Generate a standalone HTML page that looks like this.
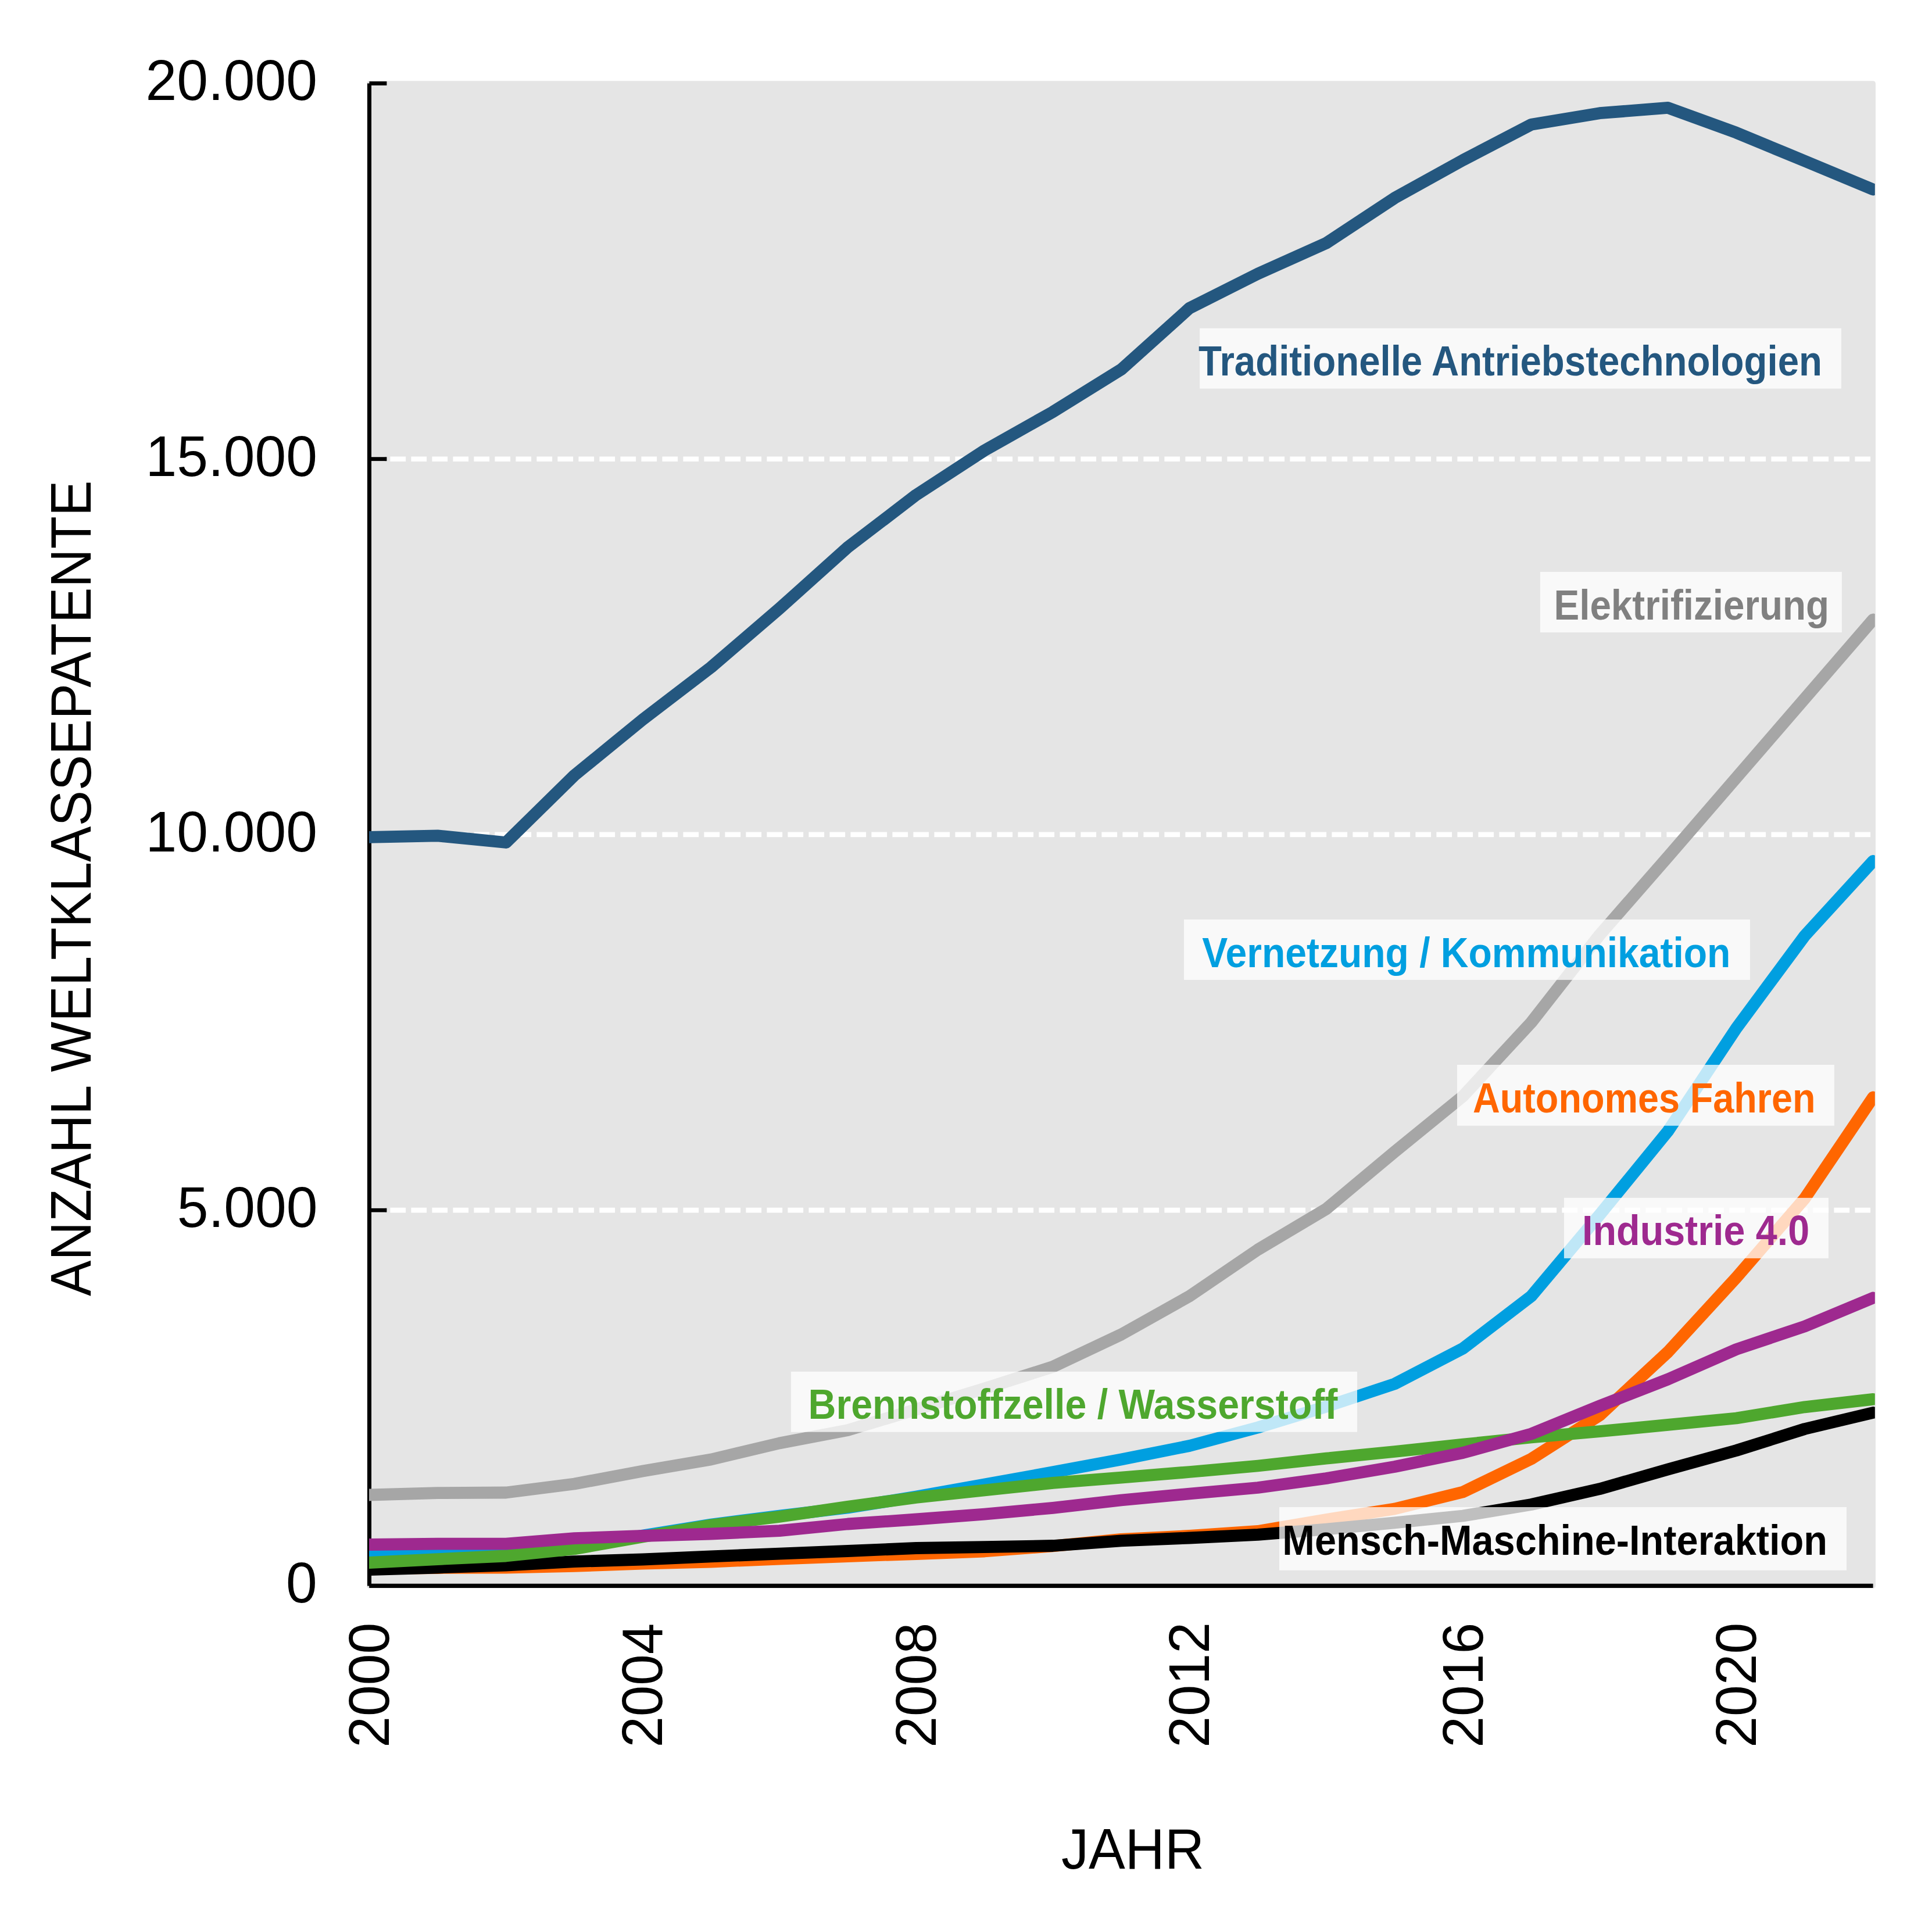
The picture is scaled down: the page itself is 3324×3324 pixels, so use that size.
<!DOCTYPE html>
<html lang="de"><head><meta charset="utf-8"><title>Weltklassepatente</title>
<style>html,body{margin:0;padding:0;background:#fff;}body{width:3324px;height:3324px;overflow:hidden;}svg{display:block;}.ax{font-family:"Liberation Sans",Arial,sans-serif;fill:#000;}.lb{font-family:"Liberation Sans",Arial,sans-serif;font-weight:bold;}</style>
</head><body>
<svg width="3324" height="3324" viewBox="0 0 3324 3324">
<rect x="0" y="0" width="3324" height="3324" fill="#ffffff"/>
<rect x="635.40" y="143.50" width="2587.20" height="2584.90" fill="#e5e5e5" stroke="#e5e5e5" stroke-width="8.7" stroke-linejoin="round"/>
<line x1="635.40" y1="2082.18" x2="3222.60" y2="2082.18" stroke="#ffffff" stroke-width="8.7" stroke-dasharray="26.7 9.3"/>
<line x1="635.40" y1="1435.95" x2="3222.60" y2="1435.95" stroke="#ffffff" stroke-width="8.7" stroke-dasharray="26.7 9.3"/>
<line x1="635.40" y1="789.73" x2="3222.60" y2="789.73" stroke="#ffffff" stroke-width="8.7" stroke-dasharray="26.7 9.3"/>
<line x1="635.5" y1="143.50" x2="635.5" y2="2728.40" stroke="#000" stroke-width="7"/>
<line x1="635.4" y1="2728.40" x2="3222.60" y2="2728.40" stroke="#000" stroke-width="7.3"/>
<line x1="635.4" y1="2728.40" x2="665.4" y2="2728.40" stroke="#000" stroke-width="6.9"/>
<line x1="635.4" y1="2082.18" x2="665.4" y2="2082.18" stroke="#000" stroke-width="6.9"/>
<line x1="635.4" y1="1435.95" x2="665.4" y2="1435.95" stroke="#000" stroke-width="6.9"/>
<line x1="635.4" y1="789.73" x2="665.4" y2="789.73" stroke="#000" stroke-width="6.9"/>
<line x1="635.4" y1="143.50" x2="665.4" y2="143.50" stroke="#000" stroke-width="6.9"/>
<defs><clipPath id="pc"><rect x="635.0" y="139" width="2590.8" height="2594"/></clipPath></defs>
<g clip-path="url(#pc)" fill="none" stroke-width="20.8" stroke-linejoin="round" stroke-linecap="round">
<polyline stroke="#24577f" points="635.4,1440.4 753.0,1437.9 870.6,1449.5 988.2,1334.0 1105.8,1238.0 1223.4,1148.0 1341.0,1047.0 1458.6,941.6 1576.2,851.6 1693.8,775.0 1811.4,708.7 1929.0,635.7 2046.6,530.1 2164.2,471.0 2281.8,418.3 2399.4,340.7 2517.0,275.5 2634.6,214.3 2752.2,194.7 2869.8,185.4 2987.4,228.3 3105.0,277.0 3222.6,326.0"/>
<polyline stroke="#a6a6a6" points="635.4,2572.0 753.0,2568.6 870.6,2568.0 988.2,2553.0 1105.8,2531.0 1223.4,2511.0 1341.0,2483.0 1458.6,2460.6 1576.2,2425.0 1693.8,2389.0 1811.4,2351.5 1929.0,2296.0 2046.6,2230.0 2164.2,2150.0 2281.8,2080.0 2399.4,1981.7 2517.0,1886.0 2634.6,1759.0 2752.2,1608.5 2869.8,1474.0 2987.4,1338.0 3105.0,1202.0 3222.6,1066.0"/>
<polyline stroke="#ff6600" points="635.4,2698.5 753.0,2697.5 870.6,2697.0 988.2,2694.4 1105.8,2690.0 1223.4,2687.0 1341.0,2682.0 1458.6,2677.5 1576.2,2673.5 1693.8,2669.0 1811.4,2660.0 1929.0,2648.3 2046.6,2642.5 2164.2,2634.5 2281.8,2614.5 2399.4,2596.0 2517.0,2567.0 2634.6,2510.0 2752.2,2435.0 2869.8,2326.0 2987.4,2198.0 3105.0,2062.0 3222.6,1888.0"/>
<polyline stroke="#000000" points="635.4,2700.5 753.0,2697.0 870.6,2693.0 988.2,2686.6 1105.8,2683.0 1223.4,2677.8 1341.0,2673.2 1458.6,2668.5 1576.2,2663.5 1693.8,2661.7 1811.4,2659.5 1929.0,2650.8 2046.6,2646.0 2164.2,2640.4 2281.8,2631.0 2399.4,2619.8 2517.0,2608.0 2634.6,2588.5 2752.2,2561.7 2869.8,2528.0 2987.4,2495.5 3105.0,2458.5 3222.6,2430.5"/>
<polyline stroke="#009fe0" points="635.4,2673.0 753.0,2671.0 870.6,2668.0 988.2,2663.0 1105.8,2642.0 1223.4,2623.0 1341.0,2608.0 1458.6,2594.0 1576.2,2575.0 1693.8,2554.0 1811.4,2532.8 1929.0,2511.0 2046.6,2487.5 2164.2,2456.0 2281.8,2420.0 2399.4,2381.0 2517.0,2320.0 2634.6,2230.0 2752.2,2090.0 2869.8,1946.0 2987.4,1769.0 3105.0,1610.0 3222.6,1481.5"/>
<polyline stroke="#4ea72e" points="635.4,2688.5 753.0,2682.6 870.6,2677.0 988.2,2665.0 1105.8,2644.0 1223.4,2624.0 1341.0,2609.5 1458.6,2592.4 1576.2,2576.5 1693.8,2564.0 1811.4,2551.4 1929.0,2542.2 2046.6,2532.5 2164.2,2522.0 2281.8,2509.2 2399.4,2497.5 2517.0,2485.2 2634.6,2473.0 2752.2,2462.7 2869.8,2451.4 2987.4,2440.0 3105.0,2420.8 3222.6,2407.4"/>
<polyline stroke="#9e298f" points="635.4,2657.5 753.0,2656.2 870.6,2656.2 988.2,2646.6 1105.8,2642.5 1223.4,2639.0 1341.0,2633.7 1458.6,2622.0 1576.2,2614.0 1693.8,2605.2 1811.4,2594.3 1929.0,2581.0 2046.6,2570.0 2164.2,2559.5 2281.8,2543.5 2399.4,2523.5 2517.0,2499.5 2634.6,2467.0 2752.2,2419.0 2869.8,2373.0 2987.4,2321.5 3105.0,2282.0 3222.6,2233.0"/>
</g>
<text class="ax" transform="translate(250.57,172.40) scale(0.9852,1)" font-size="98">20.000</text>
<text class="ax" transform="translate(250.57,818.63) scale(0.9852,1)" font-size="98">15.000</text>
<text class="ax" transform="translate(250.57,1464.85) scale(0.9852,1)" font-size="98">10.000</text>
<text class="ax" transform="translate(304.76,2111.08) scale(0.9852,1)" font-size="98">5.000</text>
<text class="ax" transform="translate(491.95,2757.30) scale(0.9852,1)" font-size="98">0</text>
<text class="ax" transform="translate(668.90,3006.63) rotate(-90) scale(0.9861,1)" font-size="98">2000</text>
<text class="ax" transform="translate(1139.30,3006.61) rotate(-90) scale(0.9814,1)" font-size="98">2004</text>
<text class="ax" transform="translate(1609.70,3006.63) rotate(-90) scale(0.9861,1)" font-size="98">2008</text>
<text class="ax" transform="translate(2080.10,3006.65) rotate(-90) scale(0.9909,1)" font-size="98">2012</text>
<text class="ax" transform="translate(2550.50,3006.63) rotate(-90) scale(0.9861,1)" font-size="98">2016</text>
<text class="ax" transform="translate(3020.90,3006.63) rotate(-90) scale(0.9861,1)" font-size="98">2020</text>
<text class="ax" transform="translate(156.07,2229.90) rotate(-90) scale(0.9319,1)" font-size="98.8">ANZAHL WELTKLASSEPATENTE</text>
<text class="ax" transform="translate(1825.98,3215.30) scale(0.9513,1)" font-size="99.0">JAHR</text>
<rect x="2064.1" y="564.8" width="1103.8" height="103.8" fill="#ffffff" fill-opacity="0.75"/>
<text transform="translate(2062.09,646.40) scale(0.9082,1)" font-size="72" class="lb" fill="#24577f">Traditionelle Antriebstechnologien</text>
<rect x="2649.9" y="983.9" width="519.0" height="104.2" fill="#ffffff" fill-opacity="0.75"/>
<text transform="translate(2673.45,1065.60) scale(0.9108,1)" font-size="72" class="lb" fill="#808080">Elektrifizierung</text>
<rect x="2037.0" y="1582.0" width="973.9" height="103.9" fill="#ffffff" fill-opacity="0.75"/>
<text transform="translate(2068.18,1663.80) scale(0.9168,1)" font-size="72" class="lb" fill="#009fe0">Vernetzung / Kommunikation</text>
<rect x="2507.0" y="1832.0" width="648.9" height="104.8" fill="#ffffff" fill-opacity="0.75"/>
<text transform="translate(2534.10,1913.80) scale(0.8985,1)" font-size="72" class="lb" fill="#ff6600">Autonomes Fahren</text>
<rect x="2690.9" y="2060.9" width="455.0" height="104.0" fill="#ffffff" fill-opacity="0.75"/>
<text transform="translate(2722.09,2142.00) scale(0.9221,1)" font-size="72" class="lb" fill="#9e298f">Industrie 4.0</text>
<rect x="1360.9" y="2359.9" width="974.1" height="103.8" fill="#ffffff" fill-opacity="0.75"/>
<text transform="translate(1390.60,2441.30) scale(0.9206,1)" font-size="72" class="lb" fill="#4ea72e">Brennstoffzelle / Wasserstoff</text>
<rect x="2201.0" y="2593.0" width="976.0" height="108.7" fill="#ffffff" fill-opacity="0.75"/>
<text transform="translate(2206.37,2674.60) scale(0.9266,1)" font-size="72" class="lb" fill="#000000">Mensch-Maschine-Interaktion</text>
</svg>
</body></html>
